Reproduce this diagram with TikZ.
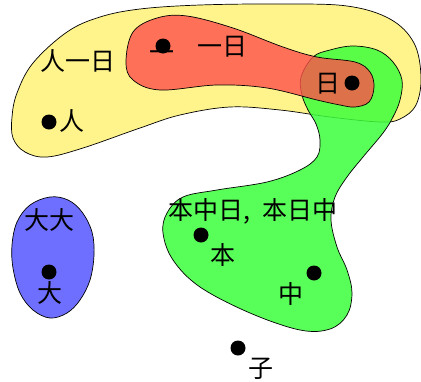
\documentclass[tikz,border=0pt]{standalone}
\usepackage{fontspec}
\setmainfont{Noto Sans CJK SC}
\definecolor{cyellow}{RGB}{255,243,140}
\definecolor{cred}{RGB}{255,80,75}
\definecolor{cgreen}{RGB}{60,255,60}
\definecolor{cblue}{RGB}{110,110,255}
\tikzset{
  vdot/.style={circle,fill=black,inner sep=0pt,minimum size=15pt},
  lab/.style={inner sep=0pt,font=\fontsize{25}{25}\selectfont},
  blob/.style={draw=black,line width=0.7pt},
}
\begin{document}
\begin{tikzpicture}[x=1pt,y=-1pt]
\useasboundingbox (0,0) rectangle (421,381);
% yellow hyperedge
\draw[blob,fill=cyellow] plot[smooth cycle,tension=0.6] coordinates {
 (12,117) (17,93) (33,63) (67,32) (100,17) (140,9) (200,5) (280,4) (347,6)
 (390,19) (414,43) (421,77) (416,105) (400,119) (380,122) (330,117) (280,110)
 (230,107) (180,115) (140,128) (83,148) (47,157) (25,152) (13,138)};
% green hyperedge
\draw[blob,fill=cgreen,fill opacity=0.85] plot[smooth cycle,tension=0.6] coordinates {
 (313,57) (330,50) (353,46) (377,50) (393,62) (402,80) (400,100) (393,117)
 (383,133) (363,157) (347,177) (335,197) (331,220) (337,247) (347,270)
 (352,293) (347,315) (330,329) (300,330) (250,313) (200,287) (173,260)
 (163,233) (167,213) (183,197) (217,190) (267,182) (300,170) (317,157)
 (320,140) (316,124) (308,110) (302,95) (301,77)};
% red hyperedge
\draw[blob,fill=cred,fill opacity=0.8] plot[smooth cycle,tension=0.6] coordinates {
 (126,62) (133,32) (157,18) (187,16) (233,28) (283,47) (317,57) (355,62)
 (370,72) (374,87) (369,102) (355,107) (340,105) (317,100) (267,88)
 (217,85) (160,90) (133,80)};
% blue hyperedge
\draw[blob,fill=cblue] plot[smooth cycle,tension=0.6] coordinates {
 (50,197) (30,205) (17,222) (12,245) (13,268) (20,293) (33,310) (50,318)
 (67,313) (80,300) (90,280) (94,255) (92,232) (82,212) (68,200)};
% edge labels
\node[lab] (eyellow) at (78,61) {人一日};
\node[lab] (ered) at (222,47) {一日};
\node[lab] (eblue) at (49,220) {大大};
\node[lab] (egreen) at (253,211) {本中日,\hspace{0.45em}本日中};
% vertices
\node[vdot] (v1) at (49,122) {};
\node[vdot] (v2) at (163,46) {};
\node[vdot] (v3) at (352,83) {};
\node[vdot] (v4) at (49,272) {};
\node[vdot] (v5) at (201,235) {};
\node[vdot] (v6) at (314,273) {};
\node[vdot] (v7) at (238,348) {};
% vertex labels
\node[lab] (l1) at (72,121) {人};
\node[lab] (l2) at (162,56) {一};
\node[lab] (l3) at (328,84) {日};
\node[lab] (l4) at (50,293) {大};
\node[lab] (l5) at (223,255) {本};
\node[lab] (l6) at (291,294) {中};
\node[lab] (l7) at (261,369) {子};
\end{tikzpicture}
\end{document}
